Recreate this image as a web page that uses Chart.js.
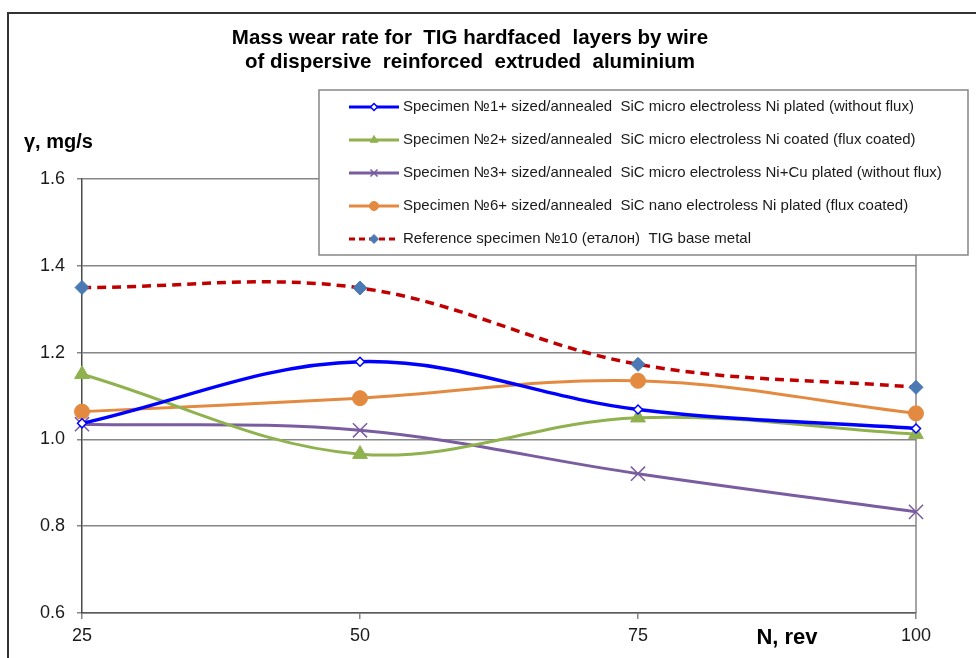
<!DOCTYPE html>
<html>
<head>
<meta charset="utf-8">
<script src="https://cdn.jsdelivr.net/npm/chart.js@4/dist/chart.umd.min.js"></script>
<style>
  html, body { margin: 0; padding: 0; background: #fff; }
  #wrap { width: 976px; height: 658px; position: relative; }
</style>
</head>
<body>
<div id="wrap"><canvas id="c" width="976" height="658"></canvas></div>
<script>
const categories = ['25', '50', '75', '100'];
const yTicks = [0.6, 0.8, 1.0, 1.2, 1.4, 1.6];
const seriesNames = [
  'Specimen №1+ sized/annealed  SiC micro electroless Ni plated (without flux)',
  'Specimen №2+ sized/annealed  SiC micro electroless Ni coated (flux coated)',
  'Specimen №3+ sized/annealed  SiC micro electroless Ni+Cu plated (without flux)',
  'Specimen №6+ sized/annealed  SiC nano electroless Ni plated (flux coated)',
  'Reference specimen №10 (еталон)  TIG base metal'
];
const specimen1 = [1.037, 1.179, 1.069, 1.025];
const specimen2 = [1.150, 0.966, 1.050, 1.012];
const specimen3 = [1.035, 1.021, 0.921, 0.833];
const specimen6 = [1.064, 1.095, 1.135, 1.060];
const reference10 = [1.350, 1.349, 1.173, 1.120];
const titleLines = ['Mass wear rate for  TIG hardfaced  layers by wire', 'of dispersive  reinforced  extruded  aluminium'];
const yTitle = 'γ, mg/s';
const xTitle = 'N, rev';

const FONT = "'Liberation Sans', Arial, sans-serif";

const datasets = [
  { label: seriesNames[0], data: specimen1, borderColor: '#0000ff', borderWidth: 3.5,
    pointStyle: 'rectRot', pointRadius: 4.5, pointBackgroundColor: '#ffffff', pointBorderColor: '#0000ff', pointBorderWidth: 1.5,
    legendRadius: 3.5 },
  { label: seriesNames[1], data: specimen2, borderColor: '#8fb24f', borderWidth: 3,
    pointStyle: 'triangle', pointRadius: 8.5, pointBackgroundColor: '#8fb24f', pointBorderColor: '#8fb24f', pointBorderWidth: 1,
    legendRadius: 4.5 },
  { label: seriesNames[2], data: specimen3, borderColor: '#7a5ca0', borderWidth: 3,
    pointStyle: 'crossRot', pointRadius: 10, pointBackgroundColor: '#7a5ca0', pointBorderColor: '#7a5ca0', pointBorderWidth: 1.5,
    legendRadius: 5 },
  { label: seriesNames[3], data: specimen6, borderColor: '#e38a40', borderWidth: 3,
    pointStyle: 'circle', pointRadius: 7.5, pointBackgroundColor: '#e38a40', pointBorderColor: '#e38a40', pointBorderWidth: 1,
    legendRadius: 4.5 },
  { label: seriesNames[4], data: reference10, borderColor: '#c00000', borderWidth: 3.5, borderDash: [9, 6],
    pointStyle: 'rectRot', pointRadius: 7, pointBackgroundColor: '#4a79b4', pointBorderColor: '#4a79b4', pointBorderWidth: 1,
    legendRadius: 4.5 }
].map(d => Object.assign({ tension: 0.36, fill: false, clip: false, pointHoverRadius: d.pointRadius }, d));

const decor = {
  id: 'decor',
  beforeDraw(chart) {
    const c = chart.ctx;
    c.save();
    c.fillStyle = '#ffffff';
    c.fillRect(0, 0, chart.width, chart.height);
    c.strokeStyle = '#333333';
    c.lineWidth = 2;
    c.beginPath();
    c.moveTo(8, 700); c.lineTo(8, 13); c.lineTo(990, 13);
    c.stroke();
    c.restore();
  },
  beforeDatasetsDraw(chart) {
    const c = chart.ctx, a = chart.chartArea;
    c.save();
    c.strokeStyle = '#868686';
    c.lineWidth = 1.5;
    c.beginPath();
    c.moveTo(a.right, a.top); c.lineTo(a.right, a.bottom);
    c.stroke();
    c.restore();
  },
  afterDraw(chart) {
    const c = chart.ctx;
    c.save();
    // titles
    c.fillStyle = '#000';
    c.textAlign = 'center';
    c.textBaseline = 'middle';
    c.font = 'bold 20.5px ' + FONT;
    c.fillText(titleLines[0], 470, 38);
    c.fillText(titleLines[1], 470, 62);
    c.textAlign = 'left';
    c.font = 'bold 20px ' + FONT;
    c.fillText(yTitle, 24, 142);
    c.textAlign = 'center';
    c.font = 'bold 22px ' + FONT;
    c.fillText(xTitle, 787, 638);

    // legend box
    c.fillStyle = '#ffffff';
    c.fillRect(319, 90, 649, 165);
    c.strokeStyle = '#868686';
    c.lineWidth = 1.5;
    c.strokeRect(319, 90, 649, 165);
    chart.data.datasets.forEach((d, i) => {
      const y = 107 + 33 * i;
      c.save();
      c.strokeStyle = d.borderColor;
      c.lineWidth = 3;
      c.setLineDash(d.borderDash ? [6, 4] : []);
      c.beginPath();
      c.moveTo(349, y); c.lineTo(399, y);
      c.stroke();
      c.setLineDash([]);
      c.fillStyle = d.pointBackgroundColor;
      c.strokeStyle = d.pointBorderColor;
      c.lineWidth = d.pointBorderWidth;
      Chart.helpers.drawPoint(c, { pointStyle: d.pointStyle, radius: d.legendRadius, rotation: 0, borderWidth: d.pointBorderWidth }, 374, y);
      c.restore();
      c.fillStyle = '#1a1a1a';
      c.textAlign = 'left';
      c.textBaseline = 'middle';
      c.font = '15px ' + FONT;
      c.fillText(d.label, 403, y);
    });
    c.restore();
  }
};

new Chart(document.getElementById('c'), {
  type: 'line',
  data: { labels: categories, datasets },
  plugins: [decor],
  options: {
    responsive: false,
    animation: false,
    devicePixelRatio: 1,
    layout: { padding: { left: 0, right: 60, top: 179, bottom: 0 } },
    plugins: { legend: { display: false }, title: { display: false }, tooltip: { enabled: false } },
    scales: {
      x: {
        type: 'category',
        offset: false,
        afterFit: s => { s.height = 45; },
        grid: { drawOnChartArea: false, drawTicks: true, tickLength: 6, color: '#868686', lineWidth: 1.5 },
        border: { display: true, color: '#5a5a5a', width: 1.5 },
        ticks: { color: '#1a1a1a', font: { family: FONT, size: 18 }, padding: 6, maxRotation: 0 }
      },
      y: {
        min: yTicks[0],
        max: yTicks[yTicks.length - 1],
        afterFit: s => { s.width = 82; },
        afterBuildTicks: s => { s.ticks = yTicks.map(v => ({ value: v })); },
        grid: { color: '#868686', lineWidth: 1.5, tickLength: 5, drawTicks: true },
        border: { display: true, color: '#4a4a4a', width: 1.5 },
        ticks: { color: '#1a1a1a', font: { family: FONT, size: 18 }, padding: 12, callback: v => Number(v).toFixed(1) }
      }
    }
  }
});
</script>
</body>
</html>
